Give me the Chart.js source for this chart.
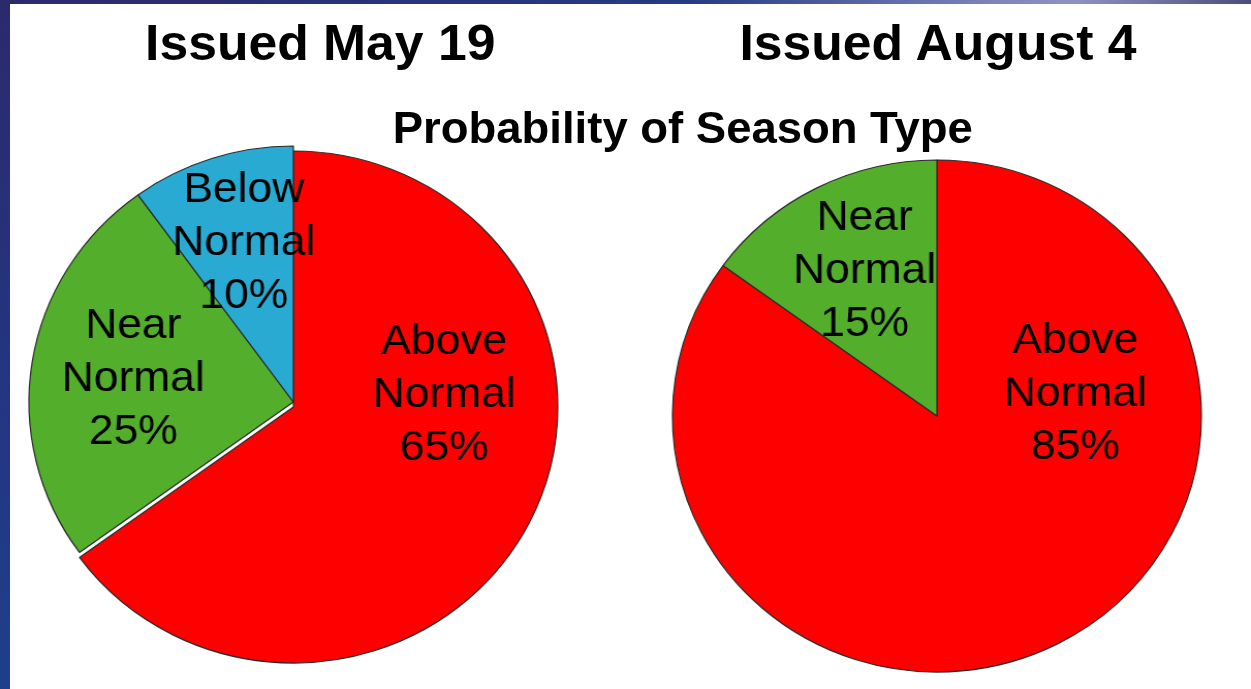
<!DOCTYPE html>
<html>
<head>
<meta charset="utf-8">
<script src="https://cdn.jsdelivr.net/npm/chart.js@4/dist/chart.umd.min.js"></script>
<style>
  html, body {
    margin: 0;
    padding: 0;
    width: 1251px;
    height: 689px;
    overflow: hidden;
    background: #ffffff;
    font-family: "Liberation Sans", Arial, sans-serif;
  }

  .edge-left {
    position: absolute;
    left: 0;
    top: 0;
    width: 10px;
    height: 689px;
    background: linear-gradient(to bottom, #2b2a6b, #243682 60%, #1f3f8a);
    z-index: 2;
  }

  .edge-top {
    position: absolute;
    left: 0;
    top: 0;
    width: 1251px;
    height: 4px;
    background: linear-gradient(to right, #2b2a6b, #283a84 55%, #7f86bb 80%, #8c92c2 86%, #4a4e7c);
    z-index: 2;
  }

  /* slide content is a touch wider than tall */
  .stage {
    position: absolute;
    left: 0;
    top: 0;
    width: 1211px;
    height: 689px;
    transform: scaleX(1.033);
    transform-origin: 0 0;
  }

  .stage canvas {
    position: absolute;
  }

  .heading {
    position: absolute;
    font-weight: bold;
    color: #000000;
    text-align: center;
    white-space: nowrap;
  }

  .issued {
    font-size: 50px;
    line-height: 50px;
    top: 18px;
    width: 600px;
  }

  .main-title {
    font-size: 44px;
    line-height: 44px;
    top: 106px;
    width: 800px;
    left: 261px;
  }
</style>
</head>
<body>
<div class="edge-left"></div>
<div class="edge-top"></div>

<div class="stage">
  <canvas id="pie-may" width="540" height="540" style="left: 14px; top: 132px;"></canvas>
  <canvas id="pie-august" width="540" height="540" style="left: 637px; top: 146px;"></canvas>

  <div class="heading issued" style="left: 10px;">Issued May 19</div>
  <div class="heading issued" style="left: 608px;">Issued August 4</div>
  <div class="heading main-title">Probability of Season Type</div>
</div>

<script>
const mayCategories = ["Above Normal", "Near Normal", "Below Normal"];
const mayValues = [65, 25, 10];

const augustCategories = ["Above Normal", "Near Normal"];
const augustValues = [85, 15];

const seasonColors = {
  "Above Normal": "#ff0000",
  "Near Normal": "#52ae2b",
  "Below Normal": "#29aad3"
};

// where each three-line label sits, relative to the pie centre
const mayLabelSpots = [[146, 5], [-155, -11], [-48, -147]];
const augustLabelSpots = [[134, -10], [-70, -133]];

const pieRadius = 256;
const labelFont = '43px "Liberation Sans", Arial, sans-serif';
const labelLineHeight = 53;


// drops the first slice a few pixels so it looks pulled out
const explodePlugin = {
  id: "explodeFirst",
  afterDatasetsUpdate(chart, args, opts) {
    if (!opts.shift) {
      return;
    }

    const arc = chart.getDatasetMeta(0).data[0];

    if (arc) {
      arc.y += opts.shift;
    }
  }
};

const sliceLabelPlugin = {
  id: "sliceLabels",
  afterDatasetsDraw(chart, args, opts) {
    const ctx = chart.ctx;
    const area = chart.chartArea;
    const cx = (area.left + area.right) / 2;
    const cy = (area.top + area.bottom) / 2;
    const names = chart.data.labels;
    const values = chart.data.datasets[0].data;

    ctx.save();
    ctx.font = labelFont;
    ctx.fillStyle = "#000000";
    ctx.textAlign = "center";
    ctx.textBaseline = "alphabetic";

    names.forEach((name, i) => {
      const spot = opts.spots[i];
      const lines = name.split(" ").concat(values[i] + "%");
      const x = cx + spot[0];
      const middle = cy + spot[1];

      lines.forEach((line, k) => {
        ctx.fillText(line, x, middle + (k - 1) * labelLineHeight);
      });
    });

    ctx.restore();
  }
};

function makePie(canvasId, categories, values, spots, shift) {
  const canvas = document.getElementById(canvasId);

  return new Chart(canvas, {
    type: "pie",

    data: {
      labels: categories,
      datasets: [
        {
          data: values,
          backgroundColor: categories.map((name) => seasonColors[name]),
          borderColor: "#2a2a2a",
          borderWidth: 1.2
        }
      ]
    },

    options: {
      responsive: false,
      animation: false,
      radius: pieRadius,
      layout: {
        padding: 0
      },
      plugins: {
        legend: {
          display: false
        },
        tooltip: {
          enabled: false
        },
        explodeFirst: {
          shift: shift
        },
        sliceLabels: {
          spots: spots
        }
      }
    },

    plugins: [explodePlugin, sliceLabelPlugin]
  });
}

makePie("pie-may", mayCategories, mayValues, mayLabelSpots, 5);
makePie("pie-august", augustCategories, augustValues, augustLabelSpots, 0);
</script>
</body>
</html>
